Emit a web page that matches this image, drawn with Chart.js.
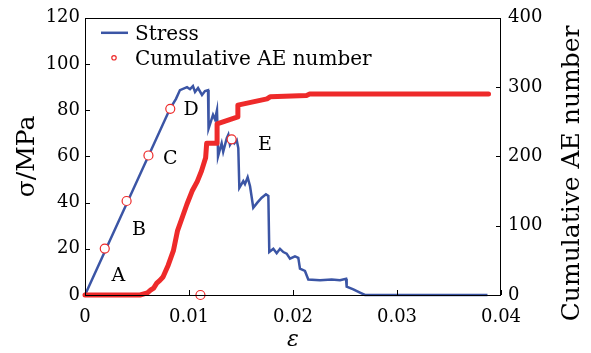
<!DOCTYPE html>
<html>
<head>
<meta charset="utf-8">
<script src="https://cdn.jsdelivr.net/npm/chart.js"></script>
<style>
  html, body { margin: 0; padding: 0; background: #fff; }
  #wrap { width: 591px; height: 353px; position: relative; }
</style>
</head>
<body>
<div id="wrap"><canvas id="chart"></canvas></div>
<script>
  // Stress-strain curve (left axis)
  const strain = [0, 0.00817, 0.00875, 0.00913, 0.00981, 0.0101, 0.01038, 0.01058, 0.01087, 0.01125,
    0.01154, 0.01183, 0.01188, 0.01231, 0.0125, 0.01269, 0.01276, 0.01279, 0.01314, 0.01329,
    0.01363, 0.01378, 0.01394, 0.0142, 0.01436, 0.01459, 0.01474, 0.01484, 0.01522, 0.01538,
    0.01564, 0.01587, 0.01618, 0.01657, 0.01699, 0.0174, 0.01763, 0.01772, 0.01811, 0.01843,
    0.01875, 0.01907, 0.01939, 0.01971, 0.02019, 0.02051, 0.02067, 0.02115, 0.02147, 0.0226,
    0.02372, 0.02452, 0.0251, 0.02516, 0.0258, 0.02644, 0.02692, 0.0387];
  const stress = [0, 80.6, 84.9, 88.7, 90.0, 89.1, 90.4, 87.9, 89.6, 86.6,
    88.3, 88.7, 72.0, 78.0, 76.0, 80.0, 69.4, 60.0, 65.7, 62.0,
    67.9, 69.4, 65.0, 67.0, 65.7, 67.0, 63.6, 46.4, 49.3, 48.0,
    51.0, 47.1, 37.8, 40.0, 42.1, 43.6, 42.9, 18.6, 20.0, 18.1,
    20.0, 18.6, 17.9, 15.7, 16.7, 16.1, 11.4, 10.4, 6.7, 6.4,
    6.7, 6.4, 7.0, 3.6, 2.4, 1.0, 0, 0];

  // Cumulative AE number (right axis)
  const aeStrain = [0, 0.0053, 0.006, 0.0063, 0.0066, 0.0069, 0.0072, 0.0075, 0.008, 0.0085,
    0.0089, 0.0094, 0.0098, 0.0103, 0.0108, 0.0112, 0.0116, 0.0117, 0.0127, 0.0127,
    0.0147, 0.0147, 0.0175, 0.0178, 0.0213, 0.0216, 0.0388];
  const aeCount = [0, 0, 3, 7, 10, 17, 21, 26, 43, 64,
    93, 114, 131, 150, 164, 179, 198, 219, 219, 247,
    257, 274, 283, 286, 288, 290, 290];

  // Stage markers (hollow circles)
  const markStrain = [0.0019, 0.004, 0.0061, 0.0082, 0.0141, 0.0111];
  const markStress = [20.1, 40.7, 60.4, 80.6, 67.4, 0];

  // Stage letters
  const stageText = ['A', 'B', 'C', 'D', 'E'];
  const stageStrain = [0.0032, 0.0052, 0.0082, 0.0102, 0.0173];
  const stageStress = [8, 28, 59, 80, 65];

  const xTicks = [0, 0.01, 0.02, 0.03, 0.04];
  const BLUE = '#3b55a5';
  const RED = '#ee2a2a';
  const SERIF = '"DejaVu Serif", "Liberation Serif", serif';

  function pairs(xs, ys) {
    return xs.map(function (x, i) { return { x: x, y: ys[i] }; });
  }

  // Frame, inward ticks, right title, legend and stage letters
  const decorPlugin = {
    id: 'decor',
    afterDraw: function (chart) {
      const ctx = chart.ctx;
      const a = chart.chartArea;
      const sx = chart.scales.x, sy = chart.scales.y, sy1 = chart.scales.y1;
      ctx.save();
      ctx.strokeStyle = '#000';
      ctx.lineWidth = 1;
      ctx.strokeRect(Math.round(a.left) + 0.5, Math.round(a.top) + 0.5,
        Math.round(a.right - a.left) - 1, Math.round(a.bottom - a.top));

      ctx.beginPath();
      sx.ticks.forEach(function (t) {
        const px = Math.round(sx.getPixelForValue(t.value)) + 0.5;
        ctx.moveTo(px, a.bottom); ctx.lineTo(px, a.bottom - 5);
      });
      sy.ticks.forEach(function (t) {
        const py = Math.round(sy.getPixelForValue(t.value)) + 0.5;
        ctx.moveTo(a.left, py); ctx.lineTo(a.left + 5, py);
      });
      sy1.ticks.forEach(function (t) {
        const py = Math.round(sy1.getPixelForValue(t.value)) + 0.5;
        ctx.moveTo(a.right, py); ctx.lineTo(a.right - 5, py);
      });
      ctx.stroke();

      // right axis title, reading bottom to top
      ctx.save();
      ctx.translate(sy1.right - 19, (a.top + a.bottom) / 2 + 17);
      ctx.rotate(-Math.PI / 2);
      ctx.font = '25px ' + SERIF;
      ctx.fillStyle = '#000';
      ctx.textAlign = 'center';
      ctx.textBaseline = 'middle';
      ctx.fillText('Cumulative AE number', 0, 0);
      ctx.restore();

      // legend
      ctx.font = '20px ' + SERIF;
      ctx.fillStyle = '#000';
      ctx.textBaseline = 'alphabetic';
      ctx.textAlign = 'left';
      ctx.strokeStyle = BLUE;
      ctx.lineWidth = 2.5;
      ctx.beginPath();
      ctx.moveTo(a.left + 16, a.top + 15); ctx.lineTo(a.left + 43, a.top + 15);
      ctx.stroke();
      ctx.fillText('Stress', a.left + 50, a.top + 22);
      ctx.strokeStyle = RED;
      ctx.lineWidth = 1.2;
      ctx.beginPath();
      ctx.arc(a.left + 29, a.top + 40, 2.2, 0, Math.PI * 2);
      ctx.stroke();
      ctx.fillText('Cumulative AE number', a.left + 50, a.top + 47);

      // stage letters
      ctx.font = '19px ' + SERIF;
      ctx.textAlign = 'center';
      ctx.textBaseline = 'middle';
      stageText.forEach(function (s, i) {
        ctx.fillText(s, sx.getPixelForValue(stageStrain[i]), sy.getPixelForValue(stageStress[i]));
      });
      ctx.restore();
    }
  };

  const tickFont = { family: SERIF, size: 18 };

  new Chart(document.getElementById('chart'), {
    type: 'scatter',
    data: {
      datasets: [
        {
          label: 'marks',
          data: pairs(markStrain, markStress),
          yAxisID: 'y',
          showLine: false,
          pointRadius: 4.5,
          pointBorderWidth: 1.2,
          pointBorderColor: RED,
          pointBackgroundColor: '#fff',
          clip: false
        },
        {
          label: 'Cumulative AE number',
          data: pairs(aeStrain, aeCount),
          yAxisID: 'y1',
          showLine: true,
          borderColor: RED,
          borderWidth: 5,
          borderCapStyle: 'round',
          borderJoinStyle: 'round',
          pointRadius: 0,
          clip: false
        },
        {
          label: 'Stress',
          data: pairs(strain, stress),
          yAxisID: 'y',
          showLine: true,
          borderColor: BLUE,
          borderWidth: 2.5,
          pointRadius: 0,
          clip: false
        }
      ]
    },
    options: {
      responsive: true,
      maintainAspectRatio: false,
      animation: false,
      layout: { padding: { top: 15, left: 0, right: 0, bottom: 0 } },
      plugins: {
        legend: { display: false },
        tooltip: { enabled: false }
      },
      scales: {
        x: {
          type: 'linear',
          min: 0,
          max: 0.04,
          afterFit: function (s) { s.height = 58; },
          afterBuildTicks: function (s) { s.ticks = xTicks.map(function (v) { return { value: v }; }); },
          grid: { display: false, drawTicks: false },
          border: { display: false },
          ticks: {
            color: '#000', font: tickFont, padding: 12,
            callback: function (v) { return v === 0 ? '0' : Number(v).toFixed(2); }
          },
          title: {
            display: true, text: 'ε', color: '#000',
            font: { family: SERIF, size: 22, style: 'italic', lineHeight: 1.2 },
            padding: { top: 0, bottom: 0 }
          }
        },
        y: {
          position: 'left',
          min: 0,
          max: 120,
          afterFit: function (s) { s.width = 85; },
          grid: { display: false, drawTicks: false },
          border: { display: false },
          ticks: { stepSize: 20, color: '#000', font: tickFont, padding: 5 },
          title: {
            display: true, text: 'σ/MPa', color: '#000',
            font: { family: SERIF, size: 25, lineHeight: 1.2 },
            padding: { top: 12, bottom: 0 }
          }
        },
        y1: {
          position: 'right',
          min: 0,
          max: 400,
          afterFit: function (s) { s.width = 90; },
          grid: { display: false, drawTicks: false },
          border: { display: false },
          ticks: { stepSize: 100, color: '#000', font: tickFont, padding: 7 },
          title: { display: false, text: 'Cumulative AE number' }
        }
      }
    },
    plugins: [decorPlugin]
  });
</script>
</body>
</html>
